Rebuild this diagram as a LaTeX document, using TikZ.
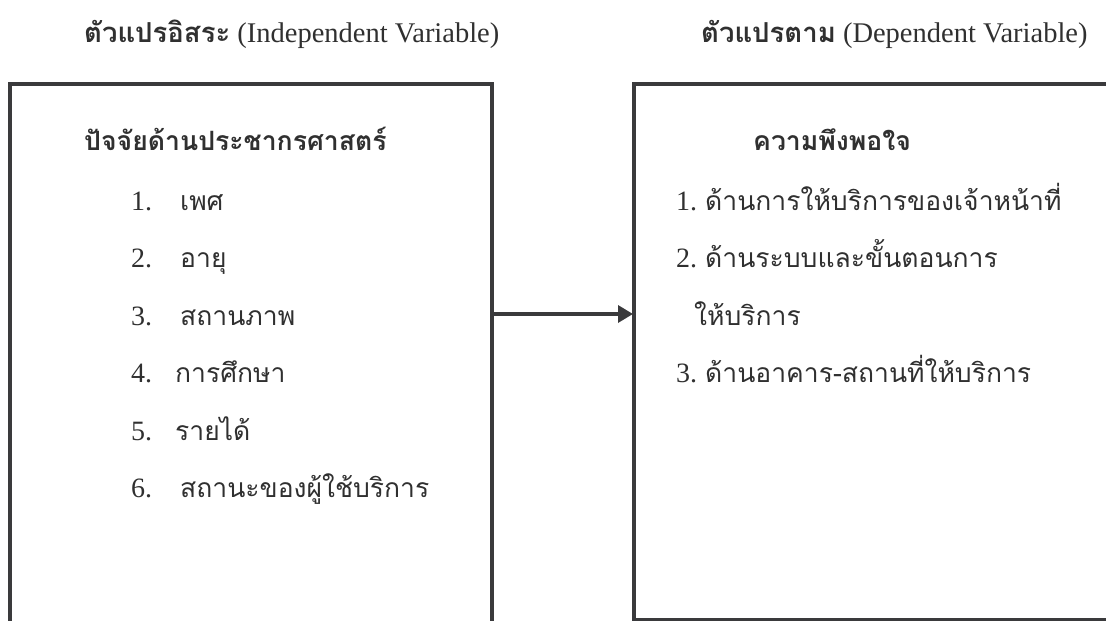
\documentclass[tikz,border=0pt]{standalone}
\usepackage{fontspec}
\setmainfont{Liberation Serif}
\newfontfamily\thaifont[Script=Thai]{Loma}
\usetikzlibrary{arrows.meta}
\definecolor{linegray}{HTML}{3A3A3C}
\definecolor{textgray}{HTML}{303030}
\tikzset{
  boxline/.style={draw=linegray,line width=3.4pt},
  conn/.style={draw=linegray,line width=3.4pt,-{Triangle[length=15pt,width=17pt]}},
  title/.style={anchor=base west,inner sep=0pt,text=textgray,font=\fontsize{28.5}{32}\selectfont},
  head/.style={anchor=base west,inner sep=0pt,text=textgray,font=\fontsize{26.6}{30}\selectfont\thaifont\bfseries},
  num/.style={anchor=base west,inner sep=0pt,text=textgray,font=\fontsize{28}{32}\selectfont},
  item/.style={anchor=base west,inner sep=0pt,text=textgray,font=\fontsize{26.5}{30}\selectfont\thaifont},
}
\newcommand{\tht}[1]{{\fontsize{27.5}{32}\selectfont\thaifont\bfseries #1}}
\begin{document}
\begin{tikzpicture}[x=1pt,y=-1pt]
\useasboundingbox (0,0) rectangle (1106,621);
% titles
\node[title] (tl) at (84,42) {\tht{ตัวแปรอิสระ} (Independent Variable)};
\node[title] (tr) at (701,42) {\tht{ตัวแปรตาม} (Dependent Variable)};
% boxes
\coordinate (lbl) at (10,630);
\coordinate (ltl) at (10,84);
\coordinate (ltr) at (492,84);
\coordinate (lbr) at (492,630);
\draw[boxline] (lbl) -- (ltl) -- (ltr) -- (lbr);
\coordinate (rtr) at (1115,84);
\coordinate (rtl) at (634,84);
\coordinate (rbl) at (634,619.5);
\coordinate (rbr) at (1115,619.5);
\draw[boxline] (rtr) -- (rtl) -- (rbl) -- (rbr);
% arrow
\coordinate (as) at (492,314);
\coordinate (ae) at (633,314);
\draw[conn] (as) -- (ae);
% left content
\node[head] (lh) at (84,150) {ปัจจัยด้านประชากรศาสตร์};
\node[num] (n1) at (131,210) {1.};
\node[item] (i1) at (180,210) {เพศ};
\node[num] (n2) at (131,267) {2.};
\node[item] (i2) at (180,267) {อายุ};
\node[num] (n3) at (131,325) {3.};
\node[item] (i3) at (180,325) {สถานภาพ};
\node[num] (n4) at (131,382) {4.};
\node[item] (i4) at (175,382) {การศึกษา};
\node[num] (n5) at (131,440) {5.};
\node[item] (i5) at (175,440) {รายได้};
\node[num] (n6) at (131,497) {6.};
\node[item] (i6) at (180,497) {สถานะของผู้ใช้บริการ};
% right content
\node[head] (rh) at (753,150) {ความพึงพอใจ};
\node[num] (m1) at (676,210) {1.};
\node[item] (j1) at (705,210) {ด้านการให้บริการของเจ้าหน้าที่};
\node[num] (m2) at (676,267) {2.};
\node[item] (j2) at (705,267) {ด้านระบบและขั้นตอนการ};
\node[item] (j2b) at (694,325) {ให้บริการ};
\node[num] (m3) at (676,382) {3.};
\node[item] (j3) at (705,382) {ด้านอาคาร-สถานที่ให้บริการ};
\end{tikzpicture}
\end{document}
